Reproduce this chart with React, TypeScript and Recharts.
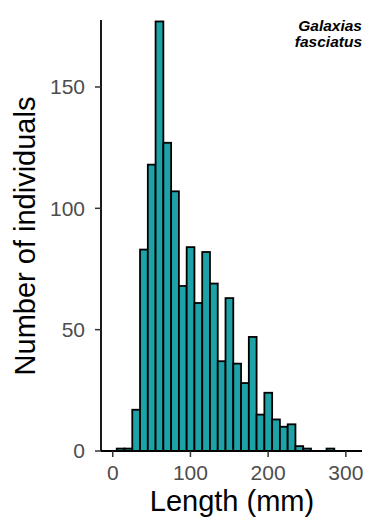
import React from "react";
import { BarChart, Bar, XAxis, YAxis } from "recharts";

const binCenters = [0, 10, 20, 30, 40, 50, 60, 70, 80, 90, 100, 110, 120, 130, 140, 150, 160, 170, 180, 190, 200, 210, 220, 230, 240, 250, 260, 270, 280];
const counts = [0, 1, 1, 17, 83, 118, 177, 127, 107, 68, 84, 61, 82, 69, 37, 63, 36, 28, 47, 15, 24, 13, 10, 11, 2, 1, 0, 0, 1];
const xTicks = [0, 100, 200, 300];
const yTicks = [0, 50, 100, 150];
const binWidth = 10;

const data = binCenters.map((c, i) => ({ length: c, count: counts[i] }));

const W = 366;
const H = 520;
const M = { top: 20, right: 4, left: 0, bottom: 0 };
const Y_W = 101;
const X_H = 69;
const xDomain: [number, number] = [-15.1, 320.8];
const yDomain: [number, number] = [0, 177.6];
const plotW = W - M.left - M.right - Y_W;
const pxPerUnit = plotW / (xDomain[1] - xDomain[0]);
const barPx = binWidth * pxPerUnit;

const FONT = "'Liberation Sans', Arial, Helvetica, sans-serif";

const HistBar = (props: any) => {
  const { x, y, width, height } = props;
  if (height == null || isNaN(height)) return null;
  const cx = x + width / 2;
  return (
    <rect
      x={cx - barPx / 2}
      y={y}
      width={barPx}
      height={Math.max(height, 0)}
      fill="#1CA2A7"
      stroke="#000"
      strokeWidth={1.8}
    />
  );
};

export default function App() {
  return (
    <div style={{ position: "absolute", left: 0, top: 0, width: W, height: H, background: "#fff" }}>
      <BarChart width={W} height={H} data={data} margin={M} barCategoryGap={0} barGap={0}>
        <XAxis
          dataKey="length"
          type="number"
          domain={xDomain}
          ticks={xTicks}
          allowDataOverflow
          height={X_H}
          tickSize={6}
          tickMargin={8}
          axisLine={{ stroke: "#000", strokeWidth: 1.8 }}
          tickLine={{ stroke: "#333", strokeWidth: 1.5 }}
          tick={{ fill: "#4D4D4D", fontSize: 21, fontFamily: FONT }}
          label={{
            content: () => (
              <text x={232} y={511} textAnchor="middle" fontSize={29} fontFamily={FONT} fill="#000">
                Length (mm)
              </text>
            ),
          }}
        />
        <YAxis
          type="number"
          domain={yDomain}
          ticks={yTicks}
          allowDataOverflow
          width={Y_W}
          tickSize={6}
          tickMargin={10}
          axisLine={{ stroke: "#000", strokeWidth: 1.8 }}
          tickLine={{ stroke: "#333", strokeWidth: 1.5 }}
          tick={{ fill: "#4D4D4D", fontSize: 21, fontFamily: FONT }}
          label={{
            content: () => (
              <text
                x={35}
                y={236}
                transform="rotate(-90 35 236)"
                textAnchor="middle"
                fontSize={29}
                fontFamily={FONT}
                fill="#000"
              >
                Number of individuals
              </text>
            ),
          }}
        />
        <Bar dataKey="count" isAnimationActive={false} shape={HistBar} />
        <text x={362} y={31} textAnchor="end" fontSize={15.5} fontWeight="bold" fontStyle="italic" fontFamily={FONT} fill="#000">
          Galaxias
        </text>
        <text x={362} y={47} textAnchor="end" fontSize={15.5} fontWeight="bold" fontStyle="italic" fontFamily={FONT} fill="#000">
          fasciatus
        </text>
      </BarChart>
    </div>
  );
}
